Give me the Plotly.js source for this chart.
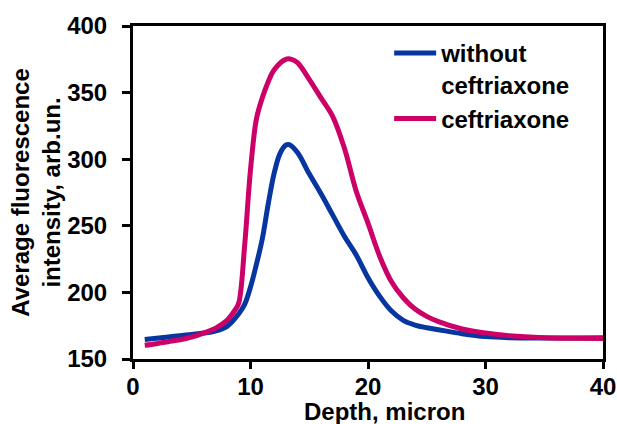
<!DOCTYPE html>
<html>
<head>
<meta charset="utf-8">
<script src="https://cdn.plot.ly/plotly-3.0.1.min.js"></script>
<style>html,body{margin:0;padding:0;background:#fff;}#chart{width:617px;height:424px;}</style>
</head>
<body>
<div id="chart"></div>
<script>
// Depth (micron)
const depthWithout = [1,2,3,4,5,6,7,8,9,9.5,10,10.5,11,11.5,12,12.5,13,13.3,14,15,16,17,18,19,20,21,22,23,24,25,26,28,30,32,35,38,40];
const intensityWithout = [164.6,165.5,166.5,167.5,168.5,169.5,171,174.5,184,191,204,221,240,266,289,304,310.5,311,305,289,274,258,242,228,211,197,186,179,175.5,173.5,172,169,166.8,166,165.8,165.8,166];

const depthWith = [1,2,3,4,5,6,7,8,8.7,9,9.5,10,10.5,11,11.5,12,13,13.5,14,15,16,17,18,19,20,21,22,23,24,25,26,28,30,32,35,38,40];
const intensityWith = [160.3,161.5,163,164.5,166.5,169.5,173,179,187,192,235,292,330,346,358,367,375,375,372.5,360,346,332,308,276,252,227,208,196,187.5,182,178,172.5,169.5,167.5,166,165.5,165.3];

const seriesNames = ["without<br>ceftriaxone", "ceftriaxone"];
const xTicks = [0,10,20,30,40];
const yTicks = [150,200,250,300,350,400];

const FONT = "Liberation Sans, Arial, sans-serif";
const FS = 24;

const traces = [
  {x: depthWithout, y: intensityWithout, name: seriesNames[0], mode: "lines",
   line: {color: "#0836A0", width: 5, shape: "spline", smoothing: 1}},
  {x: depthWith, y: intensityWith, name: seriesNames[1], mode: "lines",
   line: {color: "#CC0066", width: 5, shape: "spline", smoothing: 1}}
];

const layout = {
  width: 617, height: 424,
  margin: {l: 133, r: 14, t: 26, b: 65},
  paper_bgcolor: "#fff", plot_bgcolor: "#fff",
  font: {family: FONT, color: "#000", size: FS, weight: "bold"},
  showlegend: true,
  legend: {x: 0.545, y: 0.985, xanchor: "left", yanchor: "top", valign: "top",
    font: {family: FONT, size: FS, color: "#000", weight: "bold"},
    bgcolor: "rgba(0,0,0,0)", tracegroupgap: 6, itemwidth: 42},
  xaxis: {range: [0, 40], tickvals: xTicks, ticks: "outside", ticklen: 7, tickwidth: 3,
    tickcolor: "#000", showline: true, linewidth: 3, linecolor: "#000", mirror: true,
    showgrid: false, zeroline: false, tickfont: {family: FONT, size: FS, weight: "bold"},
    ticklabelstandoff: -3},
  yaxis: {range: [150, 400], tickvals: yTicks, ticks: "outside", ticklen: 8, tickwidth: 3,
    tickcolor: "#000", showline: true, linewidth: 3, linecolor: "#000", mirror: true,
    showgrid: false, zeroline: false, tickfont: {family: FONT, size: FS, weight: "bold"},
    ticklabelstandoff: 10,
    title: {text: "Average fluorescence<br>intensity, arb.un.", standoff: 0,
      font: {family: FONT, size: FS, weight: "bold"}}},
  annotations: [{text: "Depth, micron", xref: "paper", yref: "paper", x: 0.536, y: -0.159,
    xanchor: "center", yanchor: "middle", showarrow: false,
    font: {family: FONT, size: FS, color: "#000", weight: "bold"}}]
};

Plotly.newPlot("chart", traces, layout, {displayModeBar: false, staticPlot: true});
</script>
</body>
</html>
